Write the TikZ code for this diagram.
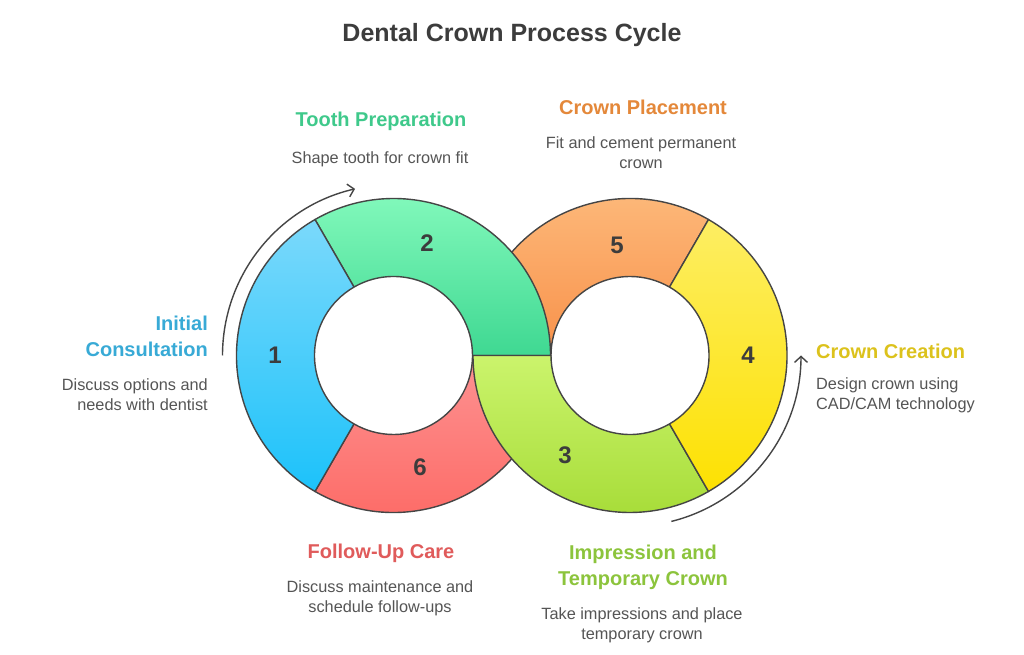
\documentclass[tikz,border=0pt]{standalone}
\usepackage{fontspec}
\setmainfont{Liberation Sans}
\usepackage{xcolor}
\usepackage{tikz}
\usetikzlibrary{arrows.meta,calc}

\definecolor{ink}{HTML}{3C3C3C}
\definecolor{edge}{HTML}{454545}
\definecolor{descgray}{HTML}{555555}
\definecolor{hblue}{HTML}{38AAD6}
\definecolor{hgreen}{HTML}{3FC98B}
\definecolor{horange}{HTML}{E4883A}
\definecolor{hyellow}{HTML}{DCC21C}
\definecolor{hred}{HTML}{E05B5B}
\definecolor{hlime}{HTML}{8CC43C}
% segment shades, top and bottom
\definecolor{redA}{RGB}{253,146,146}\definecolor{redB}{RGB}{253,104,99}
\definecolor{orA}{RGB}{253,188,126}\definecolor{orB}{RGB}{248,145,74}
\definecolor{grA}{RGB}{128,248,186}\definecolor{grB}{RGB}{63,216,146}
\definecolor{liA}{RGB}{203,244,108}\definecolor{liB}{RGB}{168,221,58}
\definecolor{blA}{RGB}{123,217,251}\definecolor{blB}{RGB}{28,194,250}
\definecolor{yeA}{RGB}{253,238,99}\definecolor{yeB}{RGB}{253,225,2}

% one piece of a ring: centre, from angle, to angle, style
\def\Rout{157}
\def\Rin{79}
\newcommand{\ringpart}[4]{%
  \draw[#4] ($(#1)+(#2:\Rout)$) arc[start angle=#2,end angle=#3,radius=\Rout]
    -- ($(#1)+(#3:\Rin)$) arc[start angle=#3,end angle=#2,radius=\Rin] -- cycle;}

\begin{document}
\begin{tikzpicture}[x=1pt,y=1pt,
  seg/.style={draw=edge,line width=1.4pt,line join=round},
  num/.style={font=\fontsize{24}{24}\selectfont\bfseries,text=ink,inner sep=0pt},
  head/.style={font=\fontsize{20}{26}\selectfont\bfseries,inner sep=0pt},
  desc/.style={font=\fontsize{16.3}{20}\selectfont,text=descgray,inner sep=0pt},
  flow/.style={draw=edge,line width=1.4pt,-{Straight Barb[length=6pt,width=13pt]}}
]
\fill[white] (0,0) rectangle (1024,655);
\useasboundingbox (0,0) rectangle (1024,655);

\coordinate (lc) at (393.5,299.5);
\coordinate (rc) at (630,299.5);

% the two rings, lower pieces first so the links cross over them
\ringpart{lc}{240}{360}{seg,top color=redA,bottom color=redB}
\ringpart{rc}{60}{180}{seg,top color=orA,bottom color=orB}
\ringpart{lc}{0}{120}{seg,top color=grA,bottom color=grB}
\ringpart{rc}{180}{300}{seg,top color=liA,bottom color=liB}
\ringpart{lc}{120}{240}{seg,top color=blA,bottom color=blB}
\ringpart{rc}{-60}{60}{seg,top color=yeA,bottom color=yeB}

% step numbers
\node[num] (n1) at (275,300) {1};
\node[num] (n2) at (427,412) {2};
\node[num] (n3) at (565,200) {3};
\node[num] (n4) at (748,300) {4};
\node[num] (n5) at (617,410) {5};
\node[num] (n6) at (420,188) {6};

% direction arcs
\coordinate (fl) at ($(lc)+(180:171)$);
\coordinate (fr) at ($(rc)+(-76:171)$);
\draw[flow] (fl) arc[start angle=180,end angle=103,radius=171];
\draw[flow] (fr) arc[start angle=-76,end angle=0,radius=171];

% title
\node[font=\fontsize{25}{25}\selectfont\bfseries,text=ink] (title) at (512,620) {Dental Crown Process Cycle};

% labels
\node[head,text=hblue,align=right,anchor=east] (h1) at (208,319) {Initial\\Consultation};
\node[desc,align=right,anchor=east] (d1) at (208,260) {Discuss options and\\needs with dentist};
\node[head,text=hgreen] (h2) at (381,534) {Tooth Preparation};
\node[desc] (d2) at (380,496) {Shape tooth for crown fit};
\node[head,text=horange] (h5) at (643,548) {Crown Placement};
\node[desc,align=center] (d5) at (641,502.5) {Fit and cement permanent\\crown};
\node[head,text=hyellow,anchor=west] (h4) at (816,304) {Crown Creation};
\node[desc,align=left,anchor=west] (d4) at (816,259.5) {Design crown using\\CAD/CAM technology};
\node[head,text=hred] (h6) at (381,102) {Follow-Up Care};
\node[desc,align=center] (d6) at (380,56.5) {Discuss maintenance and\\schedule follow-ups};
\node[head,text=hlime,align=center] (h3) at (643,88) {Impression and\\Temporary Crown};
\node[desc,align=center] (d3) at (642,30) {Take impressions and place\\temporary crown};
\end{tikzpicture}
\end{document}
